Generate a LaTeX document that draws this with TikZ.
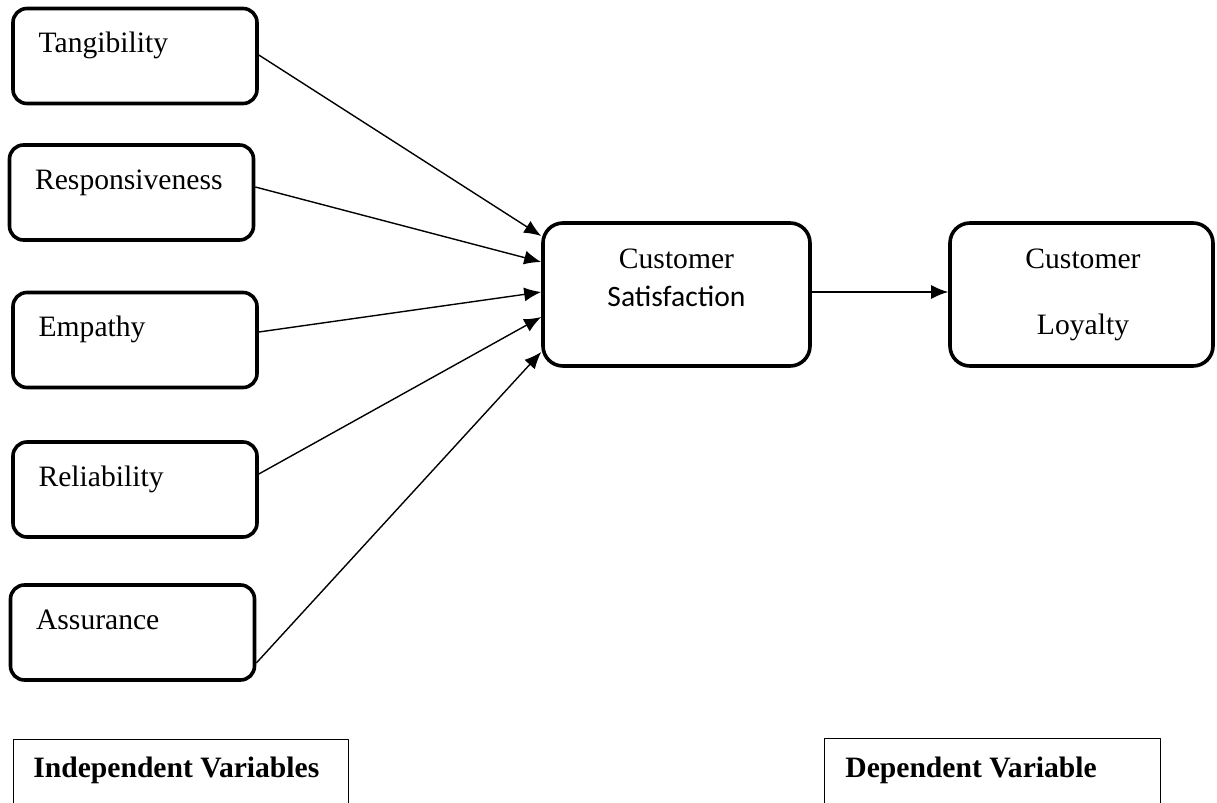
\documentclass[tikz,border=0pt]{standalone}
\usepackage{fontspec}
\setmainfont{Liberation Serif}
\newfontfamily\calibri{Carlito}
\usetikzlibrary{arrows.meta,calc,positioning}

\begin{document}
\begin{tikzpicture}[x=0.5pt,y=-0.5pt,line join=round,
  varbox/.style={draw,line width=1.8pt,rounded corners=7pt,minimum width=122pt,minimum height=47.5pt,inner sep=0pt},
  bigbox/.style={varbox,rounded corners=10pt,minimum height=71.5pt},
  vartext/.style={anchor=base west,inner sep=0pt,font=\fontsize{14.8}{17}\selectfont},
  midtext/.style={anchor=base,inner sep=0pt,font=\fontsize{14.8}{17}\selectfont},
  frame/.style={draw,line width=0.7pt,anchor=north west,minimum height=50pt,inner sep=0pt},
  link/.style={-{Latex[length=8.5pt,width=7pt]},line width=0.7pt}]
\useasboundingbox (0,0) rectangle (1217,803);
% outcome boxes
\node[bigbox,minimum width=133.5pt] (sat) at (676.5,294.5) {};
\node[bigbox,minimum width=131.5pt] (loy) at (1081.5,294.5) {};
\node[midtext] at ($(sat.north)+(0,47)$) {Customer};
\node[midtext,font=\fontsize{14.8}{17}\calibri] at ($(sat.north)+(0,85)$) {Satisfaction};
\node[midtext] at ($(loy.north)+(1.5,47)$) {Customer};
\node[midtext] at ($(loy.north)+(1.5,113)$) {Loyalty};
\draw[link] ($(sat.east)+(0,-2.5)$) -- ($(loy.west)+(0,-2.5)$);
% dimensions of service quality
\foreach \n/\x/\y/\txt/\s/\t in {tang/135/56/Tangibility/-1/-58.5,
  resp/131.5/192.5/Responsiveness/-5.5/-32.5,
  emp/135/340/Empathy/-8/-2.5,
  rel/135/489.5/Reliability/-15.5/22.5,
  assu/132.5/632.5/Assurance/30.5/57.5}{
  \node[varbox] (\n) at (\x,\y) {};
  \node[vartext] at ($(\n.north west)+(27,46)$) {\txt};
  \draw[link] ($(\n.east)+(0,\s)$) -- ($(sat.west)+(0,\t)$);
}
% legend frames
\node[frame,minimum width=167.5pt] (indep) at (13,739) {};
\node[vartext,font=\fontsize{14.8}{17}\bfseries] at ($(indep.north west)+(20,38)$) {Independent Variables};
\node[frame,minimum width=168pt] (dep) at (824,738) {};
\node[vartext,font=\fontsize{14.8}{17}\bfseries] at ($(dep.north west)+(21,39)$) {Dependent Variable};
\end{tikzpicture}
\end{document}
